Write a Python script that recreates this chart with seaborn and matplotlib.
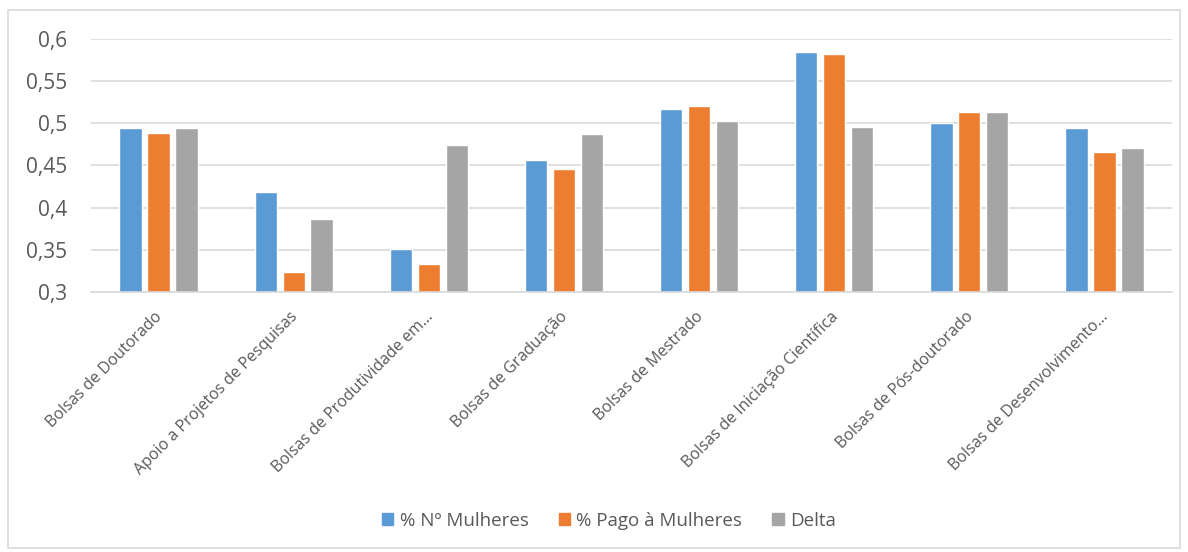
import numpy as np
import pandas as pd
import matplotlib
matplotlib.use("Agg")
import matplotlib.pyplot as plt
import matplotlib.transforms as mtransforms
from matplotlib.patches import Rectangle
from matplotlib.ticker import FuncFormatter, MultipleLocator
import seaborn as sns

# dados
categorias = [
    "Bolsas de Doutorado",
    "Apoio a Projetos de Pesquisas",
    "Bolsas de Produtividade em…",
    "Bolsas de Graduação",
    "Bolsas de Mestrado",
    "Bolsas de Iniciação Científica",
    "Bolsas de Pós-doutorado",
    "Bolsas de Desenvolvimento…",
]
series = ["% Nº Mulheres", "% Pago à Mulheres", "Delta"]
pct_mulheres = [0.495, 0.418, 0.351, 0.457, 0.517, 0.585, 0.500, 0.494]
pct_pago = [0.489, 0.324, 0.333, 0.446, 0.520, 0.582, 0.513, 0.466]
delta = [0.494, 0.387, 0.474, 0.487, 0.503, 0.496, 0.514, 0.471]

cores = ["#5B9BD5", "#ED7D31", "#A5A5A5"]
texto = "#595959"

df = pd.DataFrame({
    "categoria": categorias * 3,
    "serie": [series[0]] * 8 + [series[1]] * 8 + [series[2]] * 8,
    "valor": pct_mulheres + pct_pago + delta,
})

sns.set_theme(style="white")
plt.rcParams['font.family'] = ['Open Sans', 'DejaVu Sans']

fig = plt.figure(figsize=(11.88, 5.52), dpi=100)
ax = fig.add_axes([91 / 1188, 1 - 292 / 552, (1172 - 91) / 1188, (292 - 39) / 552])

sns.barplot(data=df, x="categoria", y="valor", hue="serie", palette=cores,
            width=0.62, gap=0.2, saturation=1, ax=ax, legend=False)

ax.set_ylim(0.3, 0.6)
ax.set_xlim(-0.5, len(categorias) - 0.5)
ax.yaxis.set_major_locator(MultipleLocator(0.05))
ax.yaxis.set_major_formatter(FuncFormatter(lambda v, p: f"{v:.2f}".rstrip("0").replace(".", ",")))
ax.grid(axis="y", color="#D9D9D9", linewidth=1.2)
ax.set_axisbelow(True)
for s in ["top", "right", "left"]:
    ax.spines[s].set_visible(False)
ax.spines["bottom"].set_color("#D9D9D9")
ax.spines["bottom"].set_linewidth(1.2)
ax.set_xlabel("")
ax.set_ylabel("")
ax.tick_params(axis="y", labelsize=15, colors=texto, length=0, pad=17)
ax.tick_params(axis="x", labelsize=11.5, colors=texto, length=0, pad=12)
desloc = mtransforms.ScaledTranslation(-4 / 100, 0, fig.dpi_scale_trans)
for lbl in ax.get_xticklabels():
    lbl.set_rotation(45)
    lbl.set_ha("right")
    lbl.set_rotation_mode("anchor")
    lbl.set_transform(lbl.get_transform() + desloc)

# legenda
handles = [Rectangle((0, 0), 1, 1, color=c) for c in cores]
leg = fig.legend(handles, series, loc="center", bbox_to_anchor=(609 / 1188, 1 - 521 / 552),
                 ncol=3, frameon=False, fontsize=13.5, handlelength=0.6, handleheight=0.6,
                 handletextpad=0.35, columnspacing=1.6)
for t in leg.get_texts():
    t.set_color(texto)

# borda externa
fig.patches.append(Rectangle((8 / 1188, 1 - 548 / 552), 1172 / 1188, 538 / 552,
                             transform=fig.transFigure, fill=False,
                             edgecolor="#D9D9D9", linewidth=1.2))

plt.savefig("out.png", dpi=100)
